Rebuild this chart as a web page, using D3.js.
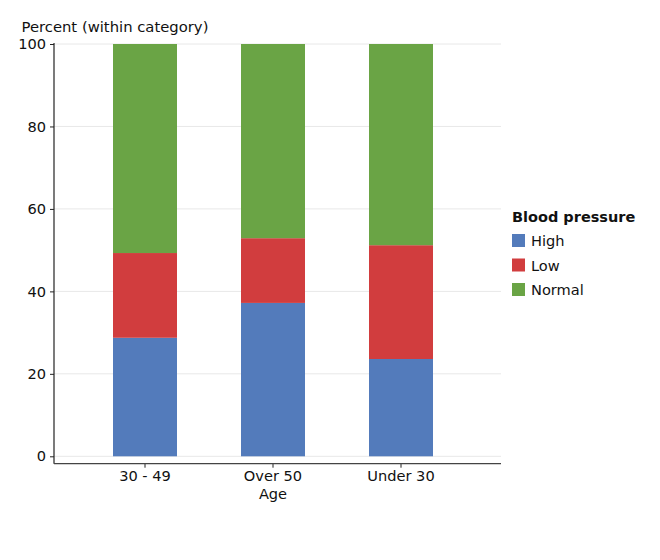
<!DOCTYPE html>
<html><head><meta charset="utf-8">
<script src="https://cdn.jsdelivr.net/npm/d3@7"></script>
<style>body{margin:0;background:#fff;} text{font-family:"DejaVu Sans",Verdana,sans-serif;}</style>
</head><body>
<svg id="chart" width="660" height="560"></svg>
<script>
const categories = ["30 - 49", "Over 50", "Under 30"];
const seriesNames = ["High", "Low", "Normal"];
const high = [28.75, 37.2, 23.6];
const low = [20.55, 15.7, 27.6];
const normal = [50.7, 47.1, 48.8];
const colors = ["#537bbb", "#d13d3e", "#6aa445"];
const yTicks = [0, 20, 40, 60, 80, 100];

const svg = d3.select("#chart");
const plotLeft = 54, plotRight = 501, plotTop = 44, plotBottom = 456.3, xAxisY = 463.7;
const fs = 14.6;

const x = d3.scaleBand().domain(categories).range([81, 465]).paddingInner(0.5).paddingOuter(0.25);
const y = d3.scaleLinear().domain([0, 100]).range([plotBottom, plotTop]);

// gridlines
svg.append("g").selectAll("line").data(yTicks).join("line")
  .attr("x1", plotLeft).attr("x2", plotRight)
  .attr("y1", d => y(d)).attr("y2", d => y(d))
  .attr("stroke", "#e8e8e8").attr("stroke-width", 1);

// stacked bars
const rows = categories.map((c, i) => ({cat: c, High: high[i], Low: low[i], Normal: normal[i]}));
const stack = d3.stack().keys(seriesNames)(rows);
svg.append("g").selectAll("g").data(stack).join("g")
  .attr("fill", (d, i) => colors[i])
  .selectAll("rect").data(d => d).join("rect")
  .attr("x", d => x(d.data.cat))
  .attr("width", x.bandwidth())
  .attr("y", d => y(d[1]))
  .attr("height", d => y(d[0]) - y(d[1]));

// y axis
const yAxis = d3.axisLeft(y).tickValues(yTicks).tickSize(4).tickPadding(4);
const gy = svg.append("g").attr("transform", `translate(${plotLeft},0)`).call(yAxis);
gy.select(".domain").remove();
gy.selectAll(".tick line").attr("stroke", "#222");
gy.selectAll(".tick text").attr("font-size", fs).attr("fill", "#111").attr("font-family", "DejaVu Sans, sans-serif");
svg.append("line").attr("x1", plotLeft).attr("x2", plotLeft).attr("y1", plotTop - 1).attr("y2", xAxisY)
  .attr("stroke", "#222").attr("stroke-width", 1.2);

// x axis
const xAxis = d3.axisBottom(x).tickSize(4).tickPadding(3);
const gx = svg.append("g").attr("transform", `translate(0,${xAxisY})`).call(xAxis);
gx.select(".domain").remove();
gx.selectAll(".tick line").attr("stroke", "#222");
gx.selectAll(".tick text").attr("font-size", fs).attr("fill", "#111").attr("font-family", "DejaVu Sans, sans-serif");
svg.append("line").attr("x1", plotLeft).attr("x2", plotRight).attr("y1", xAxisY).attr("y2", xAxisY)
  .attr("stroke", "#444").attr("stroke-width", 1.2);

// axis titles
svg.append("text").attr("x", (x("Over 50") + x.bandwidth() / 2)).attr("y", 499)
  .attr("text-anchor", "middle").attr("font-size", fs).attr("fill", "#111").text("Age");
svg.append("text").attr("x", 21.5).attr("y", 31.5)
  .attr("font-size", 14.8).attr("fill", "#111").text("Percent (within category)");

// legend
const lg = svg.append("g").attr("transform", "translate(512,0)");
lg.append("text").attr("x", 0).attr("y", 221.5).attr("font-size", 14.5).attr("font-weight", "bold")
  .attr("fill", "#111").text("Blood pressure");
const items = lg.selectAll("g.item").data(seriesNames).join("g").attr("class", "item")
  .attr("transform", (d, i) => `translate(0,${234 + i * 24.5})`);
items.append("rect").attr("width", 13).attr("height", 13).attr("fill", (d, i) => colors[i]);
items.append("text").attr("x", 19).attr("y", 12).attr("font-size", fs).attr("fill", "#111").text(d => d);
</script>
</body></html>
